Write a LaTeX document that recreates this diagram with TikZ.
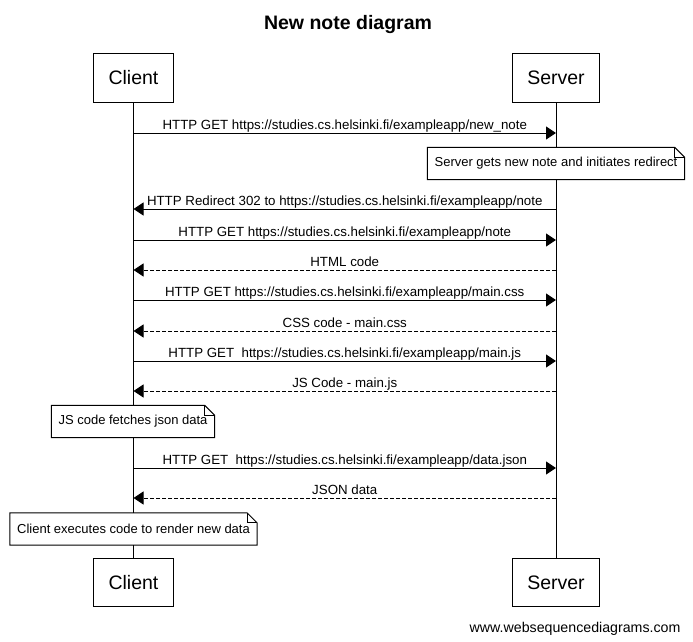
\documentclass[tikz,border=0pt]{standalone}
\usepackage{fontspec}
\setmainfont[Ligatures=NoCommon]{Liberation Sans}
\usetikzlibrary{calc, positioning, arrows.meta}

\begin{document}
\begin{tikzpicture}
              [x=1pt, y=-1pt,
               actor/.style={draw, line width=1, inner xsep=15pt, minimum height=48pt, font=\fontsize{19.5}{22}\selectfont},
               life/.style={line width=1},
               msg/.style={-{Triangle[length=10pt, width=13pt]}, line width=1},
               reply/.style={msg, dash pattern=on 4pt off 2pt},
               lbl/.style={anchor=base, yshift=3.5pt, inner sep=0pt, font=\fontsize{13.3}{16}\selectfont},
               note/.style={fill=white, inner xsep=7pt, minimum height=32pt, font=\fontsize{13}{16}\selectfont}]
              \useasboundingbox (0,0) rectangle (693,642);

              % nodes %
              \node[anchor=base, font=\bfseries\fontsize{19.5}{22}\selectfont] (title) at (348,30) {New note diagram};
              \node[actor] (client) at (133.5,78) {Client};
              \node[actor] (server) at (556,78) {Server};
              \node[actor] (clientB) at (133.5,582.5) {Client};
              \node[actor] (serverB) at (556,582.5) {Server};
              \node[anchor=base east, font=\fontsize{14.2}{17}\selectfont] (wsd) at (684,632) {www.websequencediagrams.com};

              % lifelines %
              \draw[life] (client) -- (clientB);
              \draw[life] (server) -- (serverB);

              % notes %
              \node[note] (note1) at (556,163.5) {Server gets new note and initiates redirect};
              \node[note] (note2) at (133,421.5) {JS code fetches json data};
              \node[note] (note3) at (133.5,529) {Client executes code to render new data};
              \foreach \n in {note1, note2, note3} {
                \draw[line width=1] (\n.north west) -- ($(\n.north east)+(-10,0)$) -- ($(\n.north east)+(0,10)$) -- (\n.south east) -- (\n.south west) -- cycle;
                \draw[line width=1] ($(\n.north east)+(-10,0)$) |- ($(\n.north east)+(0,10)$);
              }

              % messages %
              \foreach \y [count=\i] in {133,209,240,270,300,331,361,391,468,498} {
                \coordinate (c\i) at (133.5,\y);
                \coordinate (s\i) at (556,\y);
              }
              \draw[msg] (c1) -- node[lbl] {HTTP GET https://studies.cs.helsinki.fi/exampleapp/new\_note} (s1);
              \draw[msg] (s2) -- node[lbl] {HTTP Redirect 302 to https://studies.cs.helsinki.fi/exampleapp/note} (c2);
              \draw[msg] (c3) -- node[lbl] {HTTP GET https://studies.cs.helsinki.fi/exampleapp/note} (s3);
              \draw[reply] (s4) -- node[lbl] {HTML code} (c4);
              \draw[msg] (c5) -- node[lbl] {HTTP GET https://studies.cs.helsinki.fi/exampleapp/main.css} (s5);
              \draw[reply] (s6) -- node[lbl] {CSS code - main.css} (c6);
              \draw[msg] (c7) -- node[lbl] {HTTP GET \ https://studies.cs.helsinki.fi/exampleapp/main.js} (s7);
              \draw[reply] (s8) -- node[lbl] {JS Code - main.js} (c8);
              \draw[msg] (c9) -- node[lbl] {HTTP GET \ https://studies.cs.helsinki.fi/exampleapp/data.json} (s9);
              \draw[reply] (s10) -- node[lbl] {JSON data} (c10);
            \end{tikzpicture}
\end{document}
